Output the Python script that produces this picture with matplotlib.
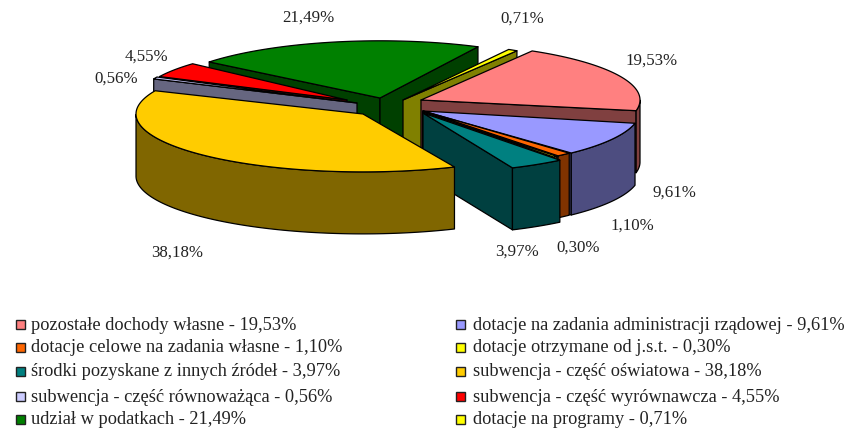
import numpy as np
import matplotlib
matplotlib.use("Agg")
import matplotlib.pyplot as plt
from matplotlib.patches import Polygon, Rectangle

plt.rcParams["font.family"] = ["Liberation Serif", "DejaVu Serif"]

# --- data ---
names = ["pozostałe dochody własne", "dotacje na zadania administracji rządowej",
         "dotacje celowe na zadania własne", "dotacje otrzymane od j.s.t.",
         "środki pozyskane z innych źródeł", "subwencja - część oświatowa",
         "subwencja - część równoważąca", "subwencja - część wyrównawcza",
         "udział w podatkach", "dotacje na programy"]
values = [19.53, 9.61, 1.10, 0.30, 3.97, 38.18, 0.56, 4.55, 21.49, 0.71]
top_colors = ["#FF8080", "#9999FF", "#FF6600", "#FFFF00", "#008080",
              "#FFCC00", "#CCCCFF", "#FF0000", "#008000", "#FFFF00"]
side_colors = ["#804040", "#4D4D80", "#803300", "#808000", "#004040",
               "#806600", "#666680", "#800000", "#004000", "#808000"]

# --- layout, in image pixels ---
start_angle = 58.0
depth = 62
apex = [(421, 100), (423, 111), (423, 111), (423, 112), (423, 113),
        (363, 114), (357, 103), (347, 100), (380, 98), (403, 100)]
radius = [219, 217, 214, 212, 222, 227, 222, 208, 220, 215]
squash = [0.26, 0.265, 0.27, 0.27, 0.27, 0.255, 0.27, 0.26, 0.26, 0.27]
# the original's perspective turns slices slightly
turn = [1.5, 0, 0, 0, 0, 0, 0, 0, 3, 0]
draw_order = [8, 9, 7, 6, 0, 1, 2, 3, 4, 5]
label_pos = [(652, 61), (674, 193), (632, 226), (578, 248), (517, 252),
             (177, 253), (116, 79), (146, 57), (308, 18), (522, 19)]
legend_x = [16, 456]
legend_y = [325, 348, 372, 397, 420]


def ell(i, t):
    c, r = apex[i], radius[i]
    t = np.radians(t)
    return np.column_stack([c[0] + r * np.cos(t), c[1] - squash[i] * r * np.sin(t)])


def draw_slice(ax, i, t1, t2):
    """Extruded slice, t1 > t2 in degrees (counter-clockwise measure)."""
    c = apex[i]
    kw = dict(edgecolor="black", linewidth=0.9, joinstyle="round")
    down = np.array([0, depth])
    # radial walls facing the viewer
    for t, normal in ((t1, t1 + 90), (t2, t2 - 90)):
        if np.sin(np.radians(normal)) < 0:
            edge = np.vstack([c, ell(i, t)])
            ax.add_patch(Polygon(np.vstack([edge, edge[::-1] + down]), facecolor=side_colors[i], **kw))
    # outer rim, front half only
    tt = np.linspace(t1, t2, 200)
    tt = tt[np.sin(np.radians(tt)) < 0]
    if len(tt) > 1:
        arc = ell(i, tt)
        ax.add_patch(Polygon(np.vstack([arc, arc[::-1] + down]), facecolor=side_colors[i], **kw))
    # top face
    tt = np.linspace(t1, t2, 200)
    ax.add_patch(Polygon(np.vstack([c, ell(i, tt)]), facecolor=top_colors[i], **kw))


fig = plt.figure(figsize=(8.49, 4.30), dpi=100)
ax = fig.add_axes([0, 0, 1, 1])
ax.set_xlim(0, 849)
ax.set_ylim(430, 0)
ax.axis("off")

cum = np.concatenate([[0], np.cumsum(values)]) / sum(values) * 360
for i in draw_order:
    draw_slice(ax, i, start_angle + turn[i] - cum[i], start_angle + turn[i] - cum[i + 1])

pct = [f"{v:.2f}".replace(".", ",") + "%" for v in values]
for (x, y), s in zip(label_pos, pct):
    ax.text(x, y, s, fontsize=12.2, color="#222222", ha="center", va="center")

for i, name in enumerate(names):
    col, row = i % 2, i // 2
    x, y = legend_x[col], legend_y[row]
    ax.add_patch(Rectangle((x, y - 5), 9, 9, facecolor=top_colors[i], edgecolor="#222222", linewidth=1))
    ax.text(x + 15 + 2 * col, y, f"{name} - {pct[i]}", fontsize=13.25, color="#222222", ha="left", va="center")

fig.savefig("out.png", dpi=100)
plt.close(fig)
